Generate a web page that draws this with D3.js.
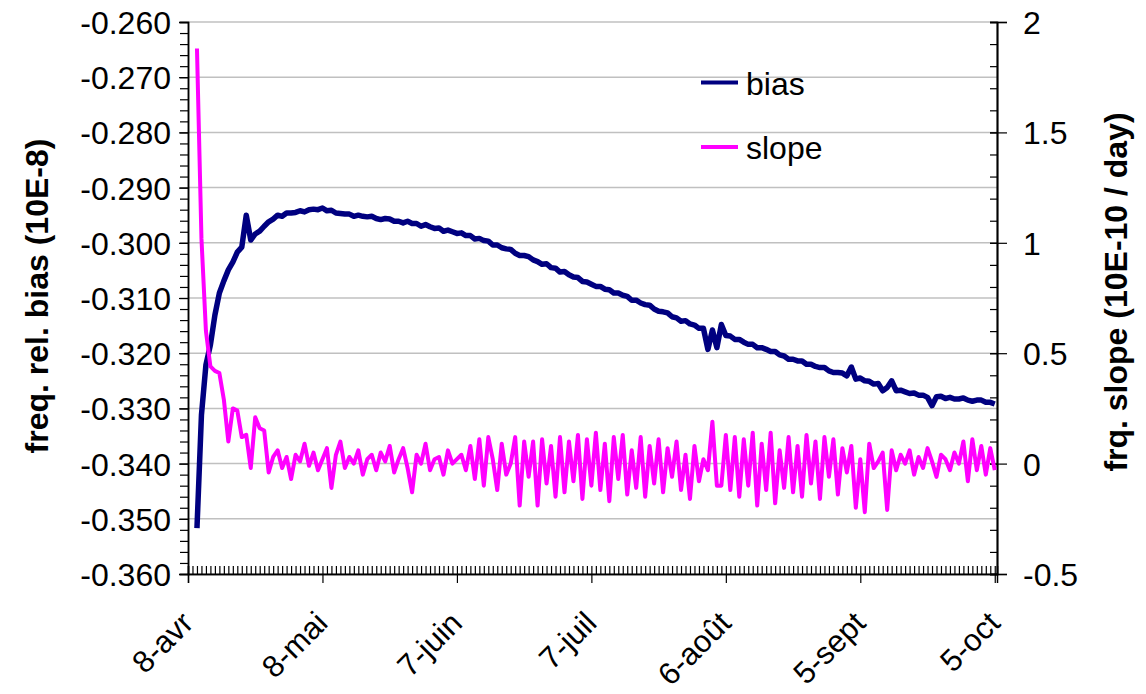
<!DOCTYPE html>
<html><head><meta charset="utf-8">
<script src="https://cdn.jsdelivr.net/npm/d3@7"></script>
<style>body{margin:0;background:#fff}svg{display:block}text{font-family:"Liberation Sans",Arial,sans-serif;fill:#000}</style>
</head><body><svg id="c" width="1146" height="694"></svg>
<script>
// ---- data ----
const startDate = Date.UTC(2007, 3, 10); // first sample (2 days after 8-avr)
const xTickLabels = ["8-avr","8-mai","7-juin","7-juil","6-août","5-sept","5-oct"];
const xTickDays = [0,30,60,90,120,150,180];
const leftTicks = [-0.36,-0.35,-0.34,-0.33,-0.32,-0.31,-0.30,-0.29,-0.28,-0.27,-0.26];
const leftTickLabels = ["-0.360","-0.350","-0.340","-0.330","-0.320","-0.310","-0.300","-0.290","-0.280","-0.270","-0.260"];
const rightTicks = [-0.5,0,0.5,1,1.5,2];
const rightTickLabels = ["-0.5","0","0.5","1","1.5","2"];
const seriesNames = ["bias","slope"];
// daily values, freq. rel. bias (10E-8)
const biasValues = [
-0.3517,-0.3312,-0.3221,-0.3185,-0.3131,-0.3091,-0.3069,-0.3049,-0.3035,-0.3017,
-0.3008,-0.2950,-0.2995,-0.2984,-0.2979,-0.2970,-0.2962,-0.2957,-0.2950,-0.2952,
-0.2946,-0.2946,-0.2945,-0.2942,-0.2944,-0.2940,-0.2939,-0.2940,-0.2937,-0.2942,
-0.2941,-0.2946,-0.2947,-0.2948,-0.2948,-0.2952,-0.2950,-0.2952,-0.2953,-0.2952,
-0.2956,-0.2958,-0.2956,-0.2957,-0.2961,-0.2961,-0.2964,-0.2961,-0.2965,-0.2965,
-0.2970,-0.2967,-0.2971,-0.2974,-0.2973,-0.2979,-0.2977,-0.2980,-0.2983,-0.2982,
-0.2987,-0.2987,-0.2993,-0.2992,-0.2996,-0.2997,-0.3004,-0.3004,-0.3009,-0.3011,
-0.3012,-0.3019,-0.3023,-0.3023,-0.3025,-0.3031,-0.3034,-0.3039,-0.3038,-0.3045,
-0.3046,-0.3053,-0.3052,-0.3058,-0.3062,-0.3063,-0.3070,-0.3071,-0.3075,-0.3079,
-0.3079,-0.3084,-0.3085,-0.3091,-0.3091,-0.3095,-0.3097,-0.3104,-0.3104,-0.3109,
-0.3112,-0.3113,-0.3120,-0.3124,-0.3125,-0.3127,-0.3134,-0.3136,-0.3142,-0.3141,
-0.3147,-0.3149,-0.3155,-0.3155,-0.3193,-0.3158,-0.3190,-0.3148,-0.3168,-0.3169,
-0.3175,-0.3175,-0.3180,-0.3184,-0.3184,-0.3190,-0.3190,-0.3193,-0.3197,-0.3197,
-0.3203,-0.3205,-0.3211,-0.3211,-0.3214,-0.3214,-0.3220,-0.3220,-0.3224,-0.3226,
-0.3226,-0.3232,-0.3235,-0.3235,-0.3236,-0.3241,-0.3225,-0.3247,-0.3245,-0.3250,
-0.3251,-0.3256,-0.3255,-0.3268,-0.3262,-0.3250,-0.3268,-0.3267,-0.3270,-0.3273,
-0.3272,-0.3276,-0.3276,-0.3280,-0.3295,-0.3279,-0.3278,-0.3282,-0.3280,-0.3283,
-0.3283,-0.3281,-0.3285,-0.3287,-0.3285,-0.3285,-0.3289,-0.3289,-0.3292
];
// daily values, frq. slope (10E-10 / day)
const slopeValues = [
1.88,1.02,0.60,0.44,0.42,0.41,0.29,0.10,0.25,0.24,
0.12,0.13,-0.02,0.21,0.16,0.15,-0.04,0.03,0.06,-0.02,
0.03,-0.07,0.04,0.01,0.09,-0.01,0.05,-0.03,0.02,0.07,
-0.11,0.04,0.10,-0.02,0.03,0.00,0.06,-0.05,0.02,0.04,
-0.03,0.05,0.01,0.08,-0.04,0.02,0.07,-0.02,-0.13,0.04,
0.00,0.09,-0.03,0.02,0.03,-0.05,0.06,0.00,0.02,0.04,
-0.03,0.08,-0.07,0.11,-0.10,0.12,0.02,-0.12,0.09,-0.05,
0.00,0.12,-0.19,0.10,-0.06,0.10,-0.19,0.11,-0.09,0.08,
-0.15,0.12,-0.13,0.10,-0.08,0.13,-0.16,0.11,-0.10,0.14,
-0.12,0.09,-0.17,0.12,-0.07,0.13,-0.14,0.06,-0.11,0.12,
-0.15,0.08,-0.09,0.11,-0.13,0.07,-0.06,0.10,-0.12,0.04,
-0.16,0.08,-0.08,0.02,-0.03,0.19,-0.10,-0.10,0.13,-0.12,
0.12,-0.15,0.11,-0.10,0.14,-0.19,0.09,-0.12,0.14,-0.18,
0.06,-0.11,0.12,-0.13,0.08,-0.15,0.13,-0.09,0.10,-0.16,
0.12,-0.06,0.11,-0.14,0.07,-0.04,0.08,-0.20,0.02,-0.22,
0.09,-0.02,0.01,0.05,-0.21,0.06,-0.03,0.04,0.00,0.06,
-0.05,0.03,-0.02,0.07,0.01,-0.06,0.04,0.02,-0.03,0.05,
0.00,0.10,-0.08,0.11,-0.03,0.08,-0.05,0.07,-0.03
];

// ---- chart ----
const DAY = 86400000;
const origin = Date.UTC(2007, 3, 8);
const svg = d3.select("#c");
const L = 188, R = 997, T = 22, B = 574;
const x = d3.scaleUtc().domain([new Date(origin), new Date(origin + 180.5*DAY)]).range([L, R]);
const yL = d3.scaleLinear().domain([-0.36, -0.26]).range([B, T]);
const yR = d3.scaleLinear().domain([-0.5, 2]).range([B, T]);

const bias = biasValues.map((v,i)=>({date:new Date(startDate + i*DAY), v}));
const slope = slopeValues.map((v,i)=>({date:new Date(startDate + i*DAY), v}));

// gridlines
svg.append("g").selectAll("line").data(leftTicks).join("line")
  .attr("x1", L).attr("x2", R).attr("y1", d=>yL(d)).attr("y2", d=>yL(d))
  .attr("stroke", "#c0c0c0").attr("stroke-width", 1.5);

// left axis
const leftMinor = d3.range(0, 51).map(i => -0.36 + i*0.002);
const gL = svg.append("g").attr("transform", `translate(${L},0)`);
gL.call(d3.axisLeft(yL).tickValues(leftMinor).tickSize(8).tickFormat(""));
gL.append("g").call(d3.axisLeft(yL).tickValues(leftTicks).tickSize(9).tickFormat((d,i)=>leftTickLabels[i]).tickPadding(8));
// right axis
const rightMinor = d3.range(0, 26).map(i => -0.5 + i*0.1);
const gR = svg.append("g").attr("transform", `translate(${R},0)`);
gR.call(d3.axisLeft(yR).tickValues(rightMinor).tickSize(7).tickFormat(""));
gR.append("g").call(d3.axisRight(yR).tickValues(rightTicks).tickSize(10).tickFormat((d,i)=>rightTickLabels[i]).tickPadding(16));
gR.append("g").call(d3.axisLeft(yR).tickValues(rightTicks).tickSize(7).tickFormat(""));
// x axis
const xMinor = d3.range(0, 181).map(i => new Date(origin + i*DAY));
const xMajor = xTickDays.map(d => new Date(origin + d*DAY));
const gX = svg.append("g").attr("transform", `translate(0,${B})`);
gX.call(d3.axisTop(x).tickValues(xMinor).tickSize(8).tickFormat(""));
gX.append("g").call(d3.axisBottom(x).tickValues(xMajor).tickSize(9).tickFormat(""));
gX.append("g").selectAll("text").data(xMajor).join("text")
  .attr("transform", d => `translate(${x(d)+7},${51}) rotate(-45)`)
  .attr("text-anchor", "end").style("font-size", "31px")
  .text((d,i)=>xTickLabels[i]);

svg.selectAll(".domain").attr("stroke", "#000").attr("stroke-width", 1.5);
svg.selectAll(".tick line").attr("stroke", "#000").attr("stroke-width", 1.2);
svg.selectAll(".tick text").style("font-size", "32px").attr("fill", "#000");
gL.selectAll(".tick text").attr("dy", "0.36em");
gR.selectAll(".tick text").attr("dy", "0.36em");

// series
const lineB = d3.line().x(d=>x(d.date)).y(d=>yL(d.v));
const lineS = d3.line().x(d=>x(d.date)).y(d=>yR(d.v));
svg.append("path").datum(bias).attr("d", lineB).attr("fill","none")
  .attr("stroke","#000080").attr("stroke-width",5.5).attr("stroke-linejoin","round");
svg.append("path").datum(slope).attr("d", lineS).attr("fill","none")
  .attr("stroke","#ff00ff").attr("stroke-width",4).attr("stroke-linejoin","round");

// axis titles
svg.append("text").attr("transform", `translate(48,296) rotate(-90)`)
  .attr("text-anchor","middle").style("font-size","32px").style("font-weight","bold")
  .text("freq. rel. bias (10E-8)");
svg.append("text").attr("transform", `translate(1127,292) rotate(-90)`)
  .attr("text-anchor","middle").style("font-size","32px").style("font-weight","bold")
  .text("frq. slope (10E-10 / day)");

// legend
const legColors = ["#000080","#ff00ff"];
const leg = svg.append("g");
seriesNames.forEach((n,i)=>{
  const yy = 82.5 + i*64.5;
  leg.append("line").attr("x1",701).attr("x2",738).attr("y1",yy).attr("y2",yy)
    .attr("stroke",legColors[i]).attr("stroke-width",4);
  leg.append("text").attr("x",746).attr("y",yy+12).style("font-size","32px").text(n);
});
</script></body></html>
